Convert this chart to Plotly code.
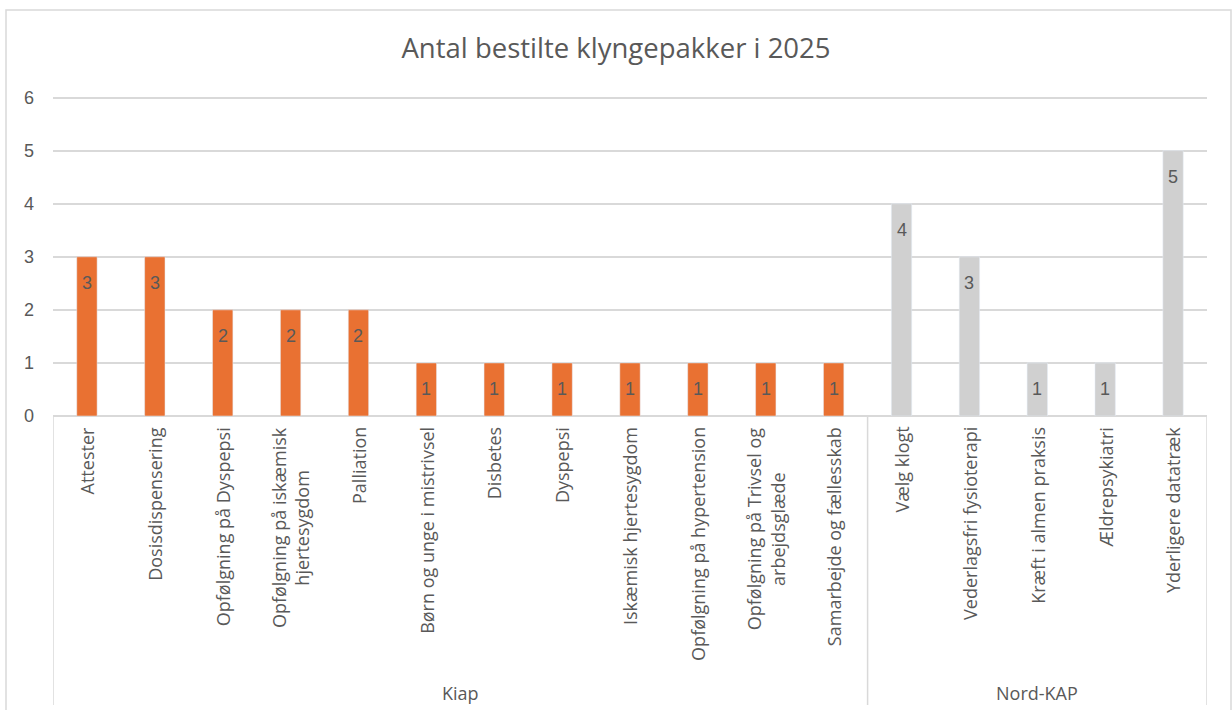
import textwrap
import plotly.graph_objects as go

# Data
kiap_labels = ["Attester", "Dosisdispensering", "Opfølgning på Dyspepsi",
               "Opfølgning på iskæmisk hjertesygdom", "Palliation",
               "Børn og unge i mistrivsel", "Disbetes", "Dyspepsi",
               "Iskæmisk hjertesygdom", "Opfølgning på hypertension",
               "Opfølgning på Trivsel og arbejdsglæde", "Samarbejde og fællesskab"]
kiap_values = [3, 3, 2, 2, 2, 1, 1, 1, 1, 1, 1, 1]

nord_labels = ["Vælg klogt", "Vederlagsfri fysioterapi", "Kræft i almen praksis",
               "Ældrepsykiatri", "Yderligere datatræk"]
nord_values = [4, 3, 1, 1, 5]

groups = ["Kiap", "Nord-KAP"]
title = "Antal bestilte klyngepakker i 2025"

ORANGE = "#E97132"
GREY = "#D0D0D0"
TEXT = "#595959"
GRID = "#D9D9D9"
LABEL_FONT = "Open Sans"
NUM_FONT = "Liberation Sans"

W, H = 1232, 710
M_L, M_R, M_T, M_B = 53, 25, 96, 294
PLOT_H = H - M_T - M_B
PLOT_W = W - M_L - M_R
Y_TOP = 6.03  # a hair above 6 so plotly keeps the top gridline


def py(pix):
    """pixel row -> paper y"""
    return (H - M_B - pix) / PLOT_H


def px(pix):
    """pixel column -> paper x"""
    return (pix - M_L) / PLOT_W


n_kiap = len(kiap_labels)
n_all = n_kiap + len(nord_labels)
x_kiap = list(range(n_kiap))
x_nord = list(range(n_kiap, n_all))

fig = go.Figure()
fig.add_trace(go.Bar(x=x_kiap, y=kiap_values, marker_color=ORANGE, width=0.3,
                     name="Kiap", showlegend=False, hoverinfo="y"))
fig.add_trace(go.Bar(x=x_nord, y=nord_values, marker_color=GREY, width=0.3,
                     name="Nord-KAP", showlegend=False, hoverinfo="y"))

annotations = []

# data labels, inside end of each bar
for xs, vals in [(x_kiap, kiap_values), (x_nord, nord_values)]:
    for x, v in zip(xs, vals):
        annotations.append(dict(x=x, y=v, xref="x", yref="y", text=str(v),
                                showarrow=False, yshift=-26,
                                font=dict(family=NUM_FONT, size=18, color=TEXT)))

# rotated category labels
for x, lab in zip(x_kiap + x_nord, kiap_labels + nord_labels):
    annotations.append(dict(x=x, y=0, xref="x", yref="y",
                            text="<br>".join(textwrap.wrap(lab, 26)),
                            textangle=-90, showarrow=False, align="center",
                            xanchor="center", yanchor="top", yshift=-9,
                            font=dict(family=LABEL_FONT, size=18, color=TEXT)))

# group labels
for name, xs in zip(groups, [x_kiap, x_nord]):
    annotations.append(dict(x=(xs[0] + xs[-1]) / 2, y=py(693), xref="x", yref="paper",
                            text=name, showarrow=False, yanchor="middle",
                            font=dict(family=LABEL_FONT, size=18, color=TEXT)))

shapes = []
# separators of the multi-level category axis
for xb in [-0.5, n_kiap - 0.5, n_all - 0.5]:
    shapes.append(dict(type="line", xref="x", yref="paper", x0=xb, x1=xb,
                       y0=0, y1=py(705), line=dict(color=GRID, width=1.5)))
# chart border
shapes.append(dict(type="rect", xref="paper", yref="paper",
                   x0=px(6), x1=px(1231), y0=py(10), y1=py(720),
                   line=dict(color=GRID, width=1.5)))

fig.update_layout(
    width=W, height=H,
    margin=dict(l=M_L, r=M_R, t=M_T, b=M_B),
    paper_bgcolor="white", plot_bgcolor="white",
    title=dict(text=title, x=0.5, xanchor="center", y=1 - 48 / H, yanchor="middle",
               font=dict(family=LABEL_FONT, size=27.5, color=TEXT)),
    xaxis=dict(range=[-0.5, n_all - 0.5], showticklabels=False, showgrid=False,
               zeroline=False, showline=False, fixedrange=True),
    yaxis=dict(range=[0, Y_TOP], tickvals=[0, 1, 2, 3, 4, 5, 6], showgrid=True,
               gridcolor=GRID, gridwidth=1.5,
               zeroline=True, zerolinecolor=GRID, zerolinewidth=1.5,
               ticklabelstandoff=18,
               tickfont=dict(family=NUM_FONT, size=18, color=TEXT), fixedrange=True),
    annotations=annotations,
    shapes=shapes,
    bargap=0.7,
)

# drop the default body margin so the figure sits at the window's corner
fig.write_html("out.html", config={"displayModeBar": False},
               post_script="document.body.style.margin='0';")
